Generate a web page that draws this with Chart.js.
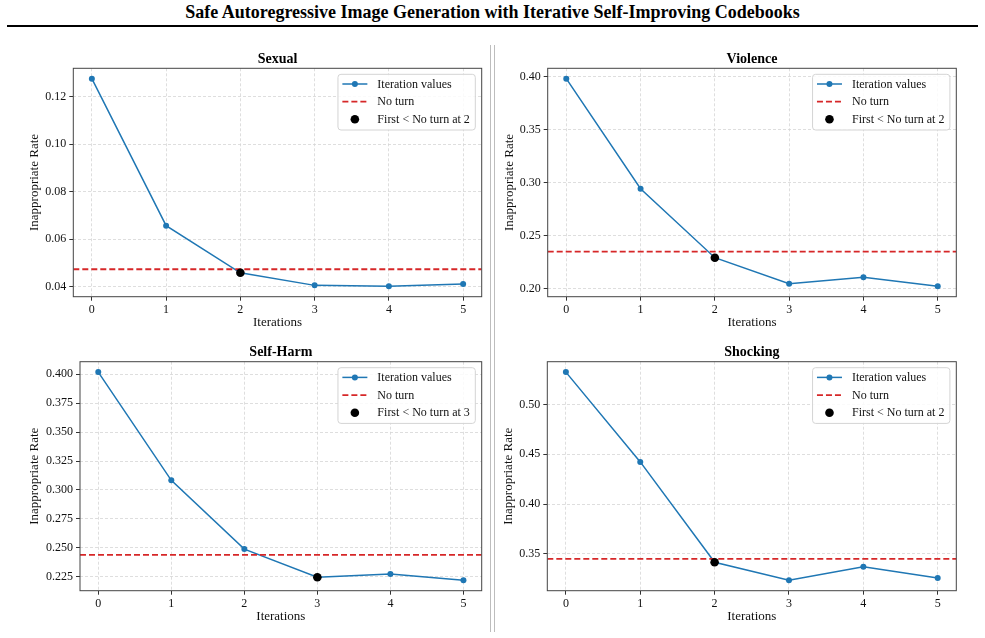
<!DOCTYPE html>
<html>
<head>
<meta charset="utf-8">
<script src="https://cdn.jsdelivr.net/npm/chart.js@4/dist/chart.umd.min.js"></script>
<style>
html,body{margin:0;padding:0;background:#fff;}
#wrap{position:relative;width:985px;height:638px;overflow:hidden;background:#fff;}
#wrap canvas{position:absolute;left:0;top:0;}
#title{position:absolute;left:0;top:3px;width:985px;text-align:center;font-family:"Liberation Serif",serif;font-weight:bold;font-size:18px;line-height:18px;color:#000;white-space:nowrap;}
#rule{position:absolute;left:7px;top:25px;width:971px;height:2.4px;background:#000;}
.vl{position:absolute;top:45px;width:1px;height:587px;background:#bdbdbd;}
</style>
</head>
<body>
<div id="wrap">
  <div id="title">Safe Autoregressive Image Generation with Iterative Self-Improving Codebooks</div>
  <div id="rule"></div>
  <div class="vl" style="left:490px"></div>
  <div class="vl" style="left:494px"></div>
  <canvas id="c0" width="985" height="638"></canvas>
  <canvas id="c1" width="985" height="638"></canvas>
  <canvas id="c2" width="985" height="638"></canvas>
  <canvas id="c3" width="985" height="638"></canvas>
</div>
<script>
// ---------------- DATA ----------------
const iterations = [0, 1, 2, 3, 4, 5];
const xTickValues = [0, 1, 2, 3, 4, 5];
const categories = ['Sexual', 'Violence', 'Self-Harm', 'Shocking'];

const sexualRates   = [0.1277, 0.0657, 0.0458, 0.0405, 0.0401, 0.0411];
const violenceRates = [0.3984, 0.2946, 0.2295, 0.2050, 0.2110, 0.2025];
const selfHarmRates = [0.4017, 0.3083, 0.2490, 0.2247, 0.2276, 0.2221];
const shockingRates = [0.5325, 0.4424, 0.3417, 0.3236, 0.3373, 0.3259];

const noTurnRates = [0.0473, 0.2352, 0.2440, 0.3450];
const firstBelowIndex = [2, 2, 3, 2];

const sexualTicks   = [0.04, 0.06, 0.08, 0.10, 0.12];
const violenceTicks = [0.20, 0.25, 0.30, 0.35, 0.40];
const selfHarmTicks = [0.225, 0.250, 0.275, 0.300, 0.325, 0.350, 0.375, 0.400];
const shockingTicks = [0.35, 0.40, 0.45, 0.50];
const tickDecimals  = [2, 2, 3, 2];

const seriesLabel = 'Iteration values';
const noTurnLabel = 'No turn';
const firstLabelPrefix = 'First < No turn at ';
const xAxisTitle = 'Iterations';
const yAxisTitle = 'Inappropriate Rate';

const allRates = [sexualRates, violenceRates, selfHarmRates, shockingRates];
const allTicks = [sexualTicks, violenceTicks, selfHarmTicks, shockingTicks];

// ---------------- LAYOUT (pixel boxes of each panel) ----------------
const panels = [
  {L: 73.3,  R: 481.7, T: 68.3,  B: 296.7, yTitleX: 35,  xTitleY: 322.7},
  {L: 547.7, R: 956.3, T: 68.3,  B: 296.7, yTitleX: 510, xTitleY: 322.7},
  {L: 80,    R: 481.7, T: 361.7, B: 590.7, yTitleX: 35,  xTitleY: 616.7},
  {L: 547.3, R: 956.3, T: 361.7, B: 590.7, yTitleX: 509, xTitleY: 616.7}
];
const W = 985, H = 638;
const FONT = '"Liberation Serif", "Times New Roman", serif';
const BLUE = '#1f77b4', RED = '#d62728';

Chart.defaults.font.family = FONT;
Chart.defaults.color = '#111';

const panelPlugin = {
  id: 'panelDecor',
  afterDraw(chart, args, opts) {
    const ctx = chart.ctx, ca = chart.chartArea;
    ctx.save();
    // frame (spines)
    ctx.strokeStyle = '#444';
    ctx.lineWidth = 1;
    ctx.strokeRect(ca.left, ca.top, ca.right - ca.left, ca.bottom - ca.top);
    // subplot title
    ctx.fillStyle = '#000';
    ctx.font = 'bold 14px ' + FONT;
    ctx.textAlign = 'center';
    ctx.textBaseline = 'middle';
    ctx.fillText(opts.title, (ca.left + ca.right) / 2, ca.top - 9.3);
    // legend
    ctx.font = '12px ' + FONT;
    const texts = opts.legendTexts;
    const tw = Math.max(...texts.map(t => ctx.measureText(t).width));
    const boxW = 39.4 + tw + 5.5, boxH = 55.7;
    const bx = ca.right - 6.4 - boxW, by = ca.top + 6;
    ctx.beginPath();
    if (ctx.roundRect) ctx.roundRect(bx, by, boxW, boxH, 3); else ctx.rect(bx, by, boxW, boxH);
    ctx.fillStyle = 'rgba(255,255,255,0.85)';
    ctx.fill();
    ctx.strokeStyle = '#d4d4d4';
    ctx.lineWidth = 1;
    ctx.stroke();
    const rows = [by + 9.7, by + 27.4, by + 45.0];
    const hx0 = bx + 4.4, hx1 = bx + 29.4, hm = (hx0 + hx1) / 2;
    // row 1: blue line + marker
    ctx.strokeStyle = BLUE; ctx.lineWidth = 1.5; ctx.setLineDash([]);
    ctx.beginPath(); ctx.moveTo(hx0, rows[0]); ctx.lineTo(hx1, rows[0]); ctx.stroke();
    ctx.fillStyle = BLUE; ctx.beginPath(); ctx.arc(hm, rows[0], 3, 0, Math.PI * 2); ctx.fill();
    // row 2: red dashed
    ctx.strokeStyle = RED; ctx.lineWidth = 1.8; ctx.setLineDash([6, 3]);
    ctx.beginPath(); ctx.moveTo(hx0, rows[1]); ctx.lineTo(hx1, rows[1]); ctx.stroke();
    ctx.setLineDash([]);
    // row 3: black dot
    ctx.fillStyle = '#000'; ctx.beginPath(); ctx.arc(hm, rows[2], 4.3, 0, Math.PI * 2); ctx.fill();
    // texts
    ctx.fillStyle = '#111';
    ctx.textAlign = 'left';
    ctx.textBaseline = 'middle';
    texts.forEach((t, i) => ctx.fillText(t, bx + 39.4, rows[i] + 0.5));
    ctx.restore();
  }
};

function makeChart(i) {
  const p = panels[i];
  const rates = allRates[i];
  const yTicks = allTicks[i];
  const dec = tickDecimals[i];
  const lo = Math.min(...rates, noTurnRates[i]);
  const hi = Math.max(...rates, noTurnRates[i]);
  const yMargin = (hi - lo) * 0.05;
  const xMin = iterations[0] - (iterations[iterations.length - 1] - iterations[0]) * 0.05;
  const xMax = iterations[iterations.length - 1] + (iterations[iterations.length - 1] - iterations[0]) * 0.05;

  const yScaleLeft = p.yTitleX - 7.8;
  const yW = p.L - yScaleLeft;
  const xScaleBottom = p.xTitleY + 7.8;
  const xH = xScaleBottom - p.B;
  const fb = firstBelowIndex[i];

  const gridCommon = {
    color: '#d6d6d6', lineWidth: 0.8, drawTicks: true, tickLength: 4,
    tickColor: '#333', tickWidth: 1, tickBorderDash: []
  };

  return new Chart(document.getElementById('c' + i), {
    type: 'scatter',
    data: {
      datasets: [
        {
          label: firstLabelPrefix + fb,
          data: [{x: iterations[fb], y: rates[fb]}],
          backgroundColor: '#000', borderColor: '#000',
          pointRadius: 4.3, pointBorderWidth: 0, showLine: false, order: 0
        },
        {
          label: noTurnLabel,
          data: [{x: xMin, y: noTurnRates[i]}, {x: xMax, y: noTurnRates[i]}],
          borderColor: RED, borderWidth: 1.8, borderDash: [6, 3],
          pointRadius: 0, showLine: true, order: 1
        },
        {
          label: seriesLabel,
          data: iterations.map((x, k) => ({x: x, y: rates[k]})),
          borderColor: BLUE, backgroundColor: BLUE, borderWidth: 1.5,
          pointRadius: 3, pointBorderWidth: 0, showLine: true, tension: 0, order: 2
        }
      ]
    },
    options: {
      responsive: false, maintainAspectRatio: false, animation: false,
      devicePixelRatio: 1, events: [],
      layout: { padding: { left: yScaleLeft, right: W - p.R, top: p.T, bottom: H - xScaleBottom } },
      plugins: {
        legend: { display: false }, tooltip: { enabled: false }, title: { display: false },
        panelDecor: {
          title: categories[i],
          legendTexts: [seriesLabel, noTurnLabel, firstLabelPrefix + fb]
        }
      },
      scales: {
        x: {
          type: 'linear', position: 'bottom', min: xMin, max: xMax,
          afterBuildTicks: s => { s.ticks = xTickValues.map(v => ({value: v})); },
          afterFit: s => { s.height = xH; },
          ticks: { font: {size: 12}, color: '#111', padding: 2, maxRotation: 0, callback: v => String(v) },
          grid: gridCommon,
          border: { display: false, dash: [3, 2] },
          title: { display: true, text: xAxisTitle, font: {size: 13}, color: '#111', padding: 0 }
        },
        y: {
          type: 'linear', position: 'left', min: lo - yMargin, max: hi + yMargin,
          afterBuildTicks: s => { s.ticks = yTicks.map(v => ({value: v})); },
          afterFit: s => { s.width = yW; },
          ticks: { font: {size: 12}, color: '#111', padding: 3, callback: v => Number(v).toFixed(dec) },
          grid: gridCommon,
          border: { display: false, dash: [3, 2] },
          title: { display: true, text: yAxisTitle, font: {size: 13}, color: '#111', padding: 0 }
        }
      }
    },
    plugins: [panelPlugin]
  });
}

for (let i = 0; i < 4; i++) makeChart(i);
</script>
</body>
</html>
